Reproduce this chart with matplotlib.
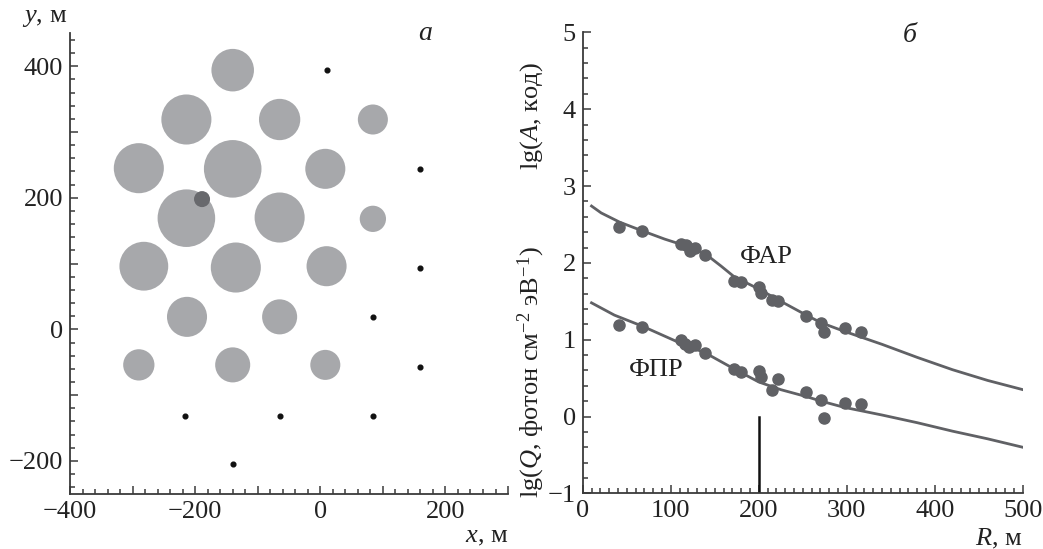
import matplotlib
matplotlib.use("Agg")
import matplotlib.pyplot as plt
from matplotlib.patches import Ellipse
from matplotlib.ticker import MultipleLocator, FuncFormatter

plt.rcParams['font.family'] = ['Liberation Serif', 'DejaVu Serif']
plt.rcParams['mathtext.fontset'] = 'custom'
plt.rcParams['mathtext.rm'] = 'Liberation Serif'
plt.rcParams['mathtext.it'] = 'Liberation Serif:italic'
plt.rcParams['axes.unicode_minus'] = True

# ---- panel a: detector array ----
det_x = [-140, -214, -65, 84, -290, -140, 8, -214, -65, 84, -282, -135, 10, -213, -65, -290, -140, 8]
det_y = [394, 319, 319, 319, 245, 244, 244, 169, 170, 168, 96, 94, 96, 19, 19, -54, -54, -54]
det_r = [34, 40, 33, 24, 40, 46, 32, 46, 40, 21, 39, 40, 32, 32, 28, 25, 28, 24]
axis_x = [-189]
axis_y = [198]
axis_r = [12.8]
off_x = [10, 159, 159, 84, 159, -216, -65, 84, -140]
off_y = [394, 244, 93, 19, -57, -131, -131, -131, -205]

# ---- panel b: lateral distribution ----
far_R = [41, 67, 112, 117, 122, 127, 139, 172, 180, 200, 203, 215, 222, 254, 271, 274, 298, 316]
far_lg = [2.47, 2.42, 2.24, 2.23, 2.16, 2.20, 2.10, 1.77, 1.75, 1.68, 1.61, 1.52, 1.51, 1.31, 1.22, 1.10, 1.15, 1.10]
fpr_R = [41, 67, 112, 116, 121, 127, 139, 172, 180, 200, 203, 215, 222, 254, 271, 274, 298, 316]
fpr_lg = [1.19, 1.17, 1.00, 0.94, 0.90, 0.93, 0.83, 0.62, 0.58, 0.59, 0.51, 0.34, 0.49, 0.32, 0.21, -0.02, 0.17, 0.16]
far_fit_R = [10, 21, 42, 67, 93, 112, 139, 157, 172, 200, 225, 254, 271, 297, 340, 380, 420, 460, 500]
far_fit_lg = [2.74, 2.65, 2.53, 2.42, 2.31, 2.24, 2.12, 1.96, 1.82, 1.66, 1.50, 1.32, 1.22, 1.11, 0.94, 0.77, 0.61, 0.47, 0.35]
fpr_fit_R = [10, 36, 67, 112, 139, 172, 200, 225, 254, 271, 297, 340, 380, 420, 460, 500]
fpr_fit_lg = [1.48, 1.32, 1.18, 0.95, 0.83, 0.62, 0.45, 0.35, 0.26, 0.20, 0.12, 0.02, -0.08, -0.19, -0.29, -0.40]
core_R = [200, 200]
core_lg = [-1, 0]

light = '#a7a8ab'
dark = '#68696d'
pt = '#606165'
spine_c = '#3a3a3a'
txt = '#222222'
FS = 19

fig = plt.figure(figsize=(10.43, 5.49), dpi=100)
axA = fig.add_axes([0.0671, 0.1005, 0.42, 0.8388])
axB = fig.add_axes([0.5587, 0.1013, 0.422, 0.8397])

for ax in (axA, axB):
    for s in ('top', 'right'):
        ax.spines[s].set_visible(False)
    for s in ('left', 'bottom'):
        ax.spines[s].set_color(spine_c)
        ax.spines[s].set_linewidth(1.3)
    ax.tick_params(which='both', direction='in', colors=spine_c, labelcolor=txt,
                   labelsize=FS, pad=5, width=1.1)
    ax.tick_params(which='major', length=6)
    ax.tick_params(which='minor', length=3.5)

# panel a
axA.set_xlim(-400, 300)
axA.set_ylim(-250, 450)
fig.canvas.draw()
bb = axA.get_window_extent()
sx = bb.width / 700.0
sy = bb.height / 700.0
for x, y, r in zip(det_x, det_y, det_r):
    axA.add_patch(Ellipse((x, y), 2 * r, 2 * r * sx / sy, facecolor=light, edgecolor='none'))
for x, y, r in zip(axis_x, axis_y, axis_r):
    axA.add_patch(Ellipse((x, y), 2 * r, 2 * r * sx / sy, facecolor=dark, edgecolor='none'))
axA.plot(off_x, off_y, 'o', color='#111111', markersize=3.4, linestyle='none')
axA.xaxis.set_major_locator(MultipleLocator(100))
axA.xaxis.set_minor_locator(MultipleLocator(20))
axA.yaxis.set_major_locator(MultipleLocator(100))
axA.yaxis.set_minor_locator(MultipleLocator(20))
fmt = FuncFormatter(lambda v, p: ('\u2212%d' % abs(v) if v < 0 else '%d' % v) if int(round(v)) % 200 == 0 else '')
axA.xaxis.set_major_formatter(fmt)
axA.yaxis.set_major_formatter(fmt)
axA.text(-0.057, 1.033, '$y$, м', transform=axA.transAxes, fontsize=FS, ha='center', va='center', color=txt)
axA.text(1.0, -0.093, '$x$, м', transform=axA.transAxes, fontsize=FS, ha='right', va='center', color=txt)
axA.text(168, 449, 'а', fontsize=20, style='italic', ha='center', va='center', color=txt)

# panel b
axB.plot(far_fit_R, far_fit_lg, '-', color=pt, lw=2)
axB.plot(fpr_fit_R, fpr_fit_lg, '-', color=pt, lw=2)
axB.plot(far_R, far_lg, 'o', color=pt, markersize=8, linestyle='none')
axB.plot(fpr_R, fpr_lg, 'o', color=pt, markersize=8, linestyle='none')
axB.plot(core_R, core_lg, '-', color='#111111', lw=1.8)
axB.set_xlim(0, 500)
axB.set_ylim(-1, 5)
axB.xaxis.set_major_locator(MultipleLocator(100))
axB.xaxis.set_minor_locator(MultipleLocator(10))
axB.yaxis.set_major_locator(MultipleLocator(1))
axB.yaxis.set_minor_locator(MultipleLocator(0.2))
axB.yaxis.set_major_formatter(FuncFormatter(lambda v, p: ('\u2212%d' % abs(v) if v < 0 else '%d' % v)))
axB.text(208, 2.08, 'ФАР', fontsize=FS, ha='center', va='center', color=txt)
axB.text(83, 0.60, 'ФПР', fontsize=FS, ha='center', va='center', color=txt)
axB.text(372, 4.96, 'б', fontsize=20, style='italic', ha='center', va='center', color=txt)
axB.text(-0.116, 0.819, 'lg($A$, код)', transform=axB.transAxes, rotation=90, fontsize=FS,
         ha='center', va='center', color=txt)
axB.text(-0.116, 0.262, 'lg($Q$, фотон см$^{\u22122}$ эВ$^{\u22121}$)', transform=axB.transAxes,
         rotation=90, fontsize=FS, ha='center', va='center', color=txt)
axB.text(1.0, -0.098, '$R$, м', transform=axB.transAxes, fontsize=FS, ha='right', va='center', color=txt)

fig.savefig('out.png', dpi=100)
